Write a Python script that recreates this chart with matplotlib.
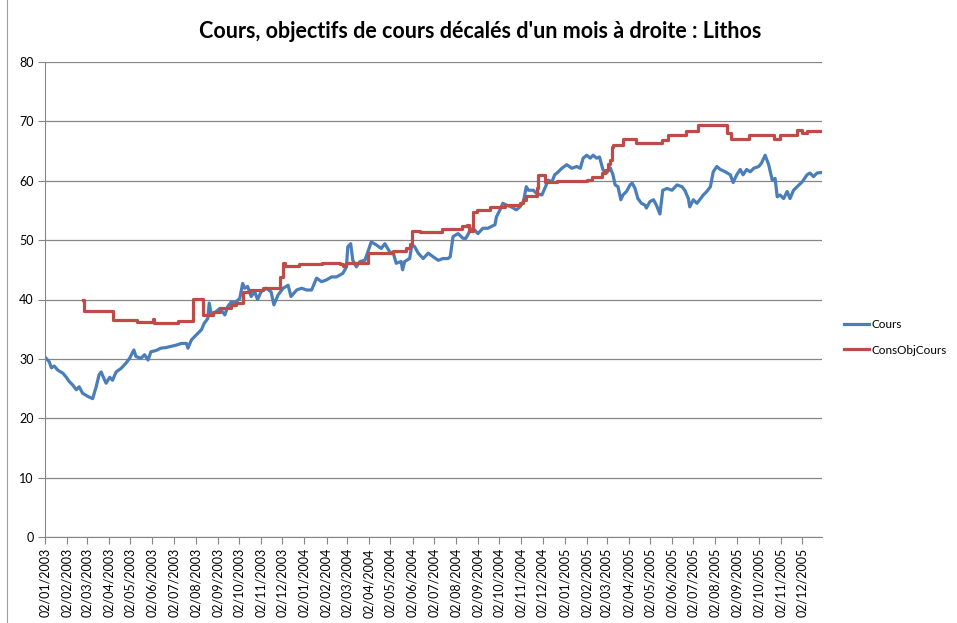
import numpy as np
import pandas as pd
import matplotlib
matplotlib.use('Agg')
import matplotlib.pyplot as plt
import matplotlib.dates as mdates
from matplotlib.lines import Line2D

plt.rcParams['font.family'] = ['Lato', 'DejaVu Sans']

start = pd.Timestamp('2003-01-02')
end_day = 1093  # last day shown (30/12/2005)

# Cours : day offset from 02/01/2003, price
cours_days = [0, 6, 9, 13, 18, 25, 30, 34, 39, 44, 48, 53, 60, 67, 72, 76, 79, 84, 86, 91,
              95, 100, 107, 114, 119, 125, 128, 135, 140, 145, 149, 156, 163, 170, 177, 184,
              192, 199, 201, 206, 210, 215, 220, 224, 229, 231, 234, 238, 246, 253, 257, 262,
              267, 274, 278, 281, 285, 290, 295, 299, 304, 311, 318, 322, 328, 335, 342, 346,
              354, 361, 368, 375, 382, 389, 396, 403, 410, 419, 424, 426, 430, 433, 438, 443,
              450, 454, 459, 466, 473, 478, 485, 490, 494, 501, 503, 506, 513, 516, 520, 525,
              532, 539, 546, 553, 560, 567, 570, 574, 581, 588, 592, 597, 602, 609, 616, 623,
              628, 633, 635, 640, 644, 649, 656, 663, 668, 673, 677, 680, 687, 691, 699, 703,
              708, 713, 717, 722, 727, 734, 741, 748, 753, 757, 762, 767, 771, 776, 780, 785,
              790, 795, 799, 802, 806, 810, 813, 818, 823, 826, 830, 834, 839, 844, 846, 851,
              856, 860, 865, 869, 875, 882, 889, 896, 900, 905, 907, 912, 917, 921, 926, 931,
              936, 940, 945, 950, 957, 964, 968, 973, 978, 982, 987, 992, 997, 1004, 1008,
              1013, 1018, 1023, 1027, 1030, 1034, 1039, 1044, 1048, 1053, 1058, 1065, 1072,
              1076, 1081, 1086, 1093]
cours_vals = [30.3, 29.5, 28.5, 28.8, 28.1, 27.6, 26.9, 26.2, 25.6, 24.8, 25.3, 24.2, 23.7,
              23.3, 25.3, 27.3, 27.8, 26.4, 25.9, 26.9, 26.4, 27.8, 28.4, 29.3, 30.1, 31.5,
              30.4, 30.1, 30.7, 29.8, 31.2, 31.4, 31.8, 31.9, 32.1, 32.3, 32.6, 32.6, 31.8,
              33.2, 33.7, 34.3, 34.9, 36.0, 36.8, 39.4, 37.4, 37.7, 38.5, 37.4, 38.8, 39.6,
              39.4, 40.2, 42.7, 41.9, 42.2, 40.5, 41.3, 40.0, 41.3, 41.9, 41.3, 39.1, 40.8,
              41.9, 42.4, 40.5, 41.6, 41.9, 41.6, 41.6, 43.6, 43.0, 43.3, 43.8, 43.8, 44.4,
              45.5, 48.9, 49.4, 46.6, 45.5, 46.4, 46.6, 48.0, 49.7, 49.2, 48.6, 49.4, 48.0,
              47.8, 46.1, 46.4, 45.0, 46.4, 46.9, 49.2, 48.9, 47.8, 46.9, 47.8, 47.2, 46.6,
              46.9, 46.9, 47.2, 50.6, 51.1, 50.3, 50.3, 51.4, 52.0, 51.1, 52.0, 52.0, 52.3,
              52.6, 53.9, 55.1, 56.2, 55.9, 55.6, 55.1, 55.6, 56.5, 59.0, 58.4, 58.4, 57.9,
              57.6, 58.7, 60.1, 59.8, 61.0, 61.5, 62.1, 62.7, 62.1, 62.4, 62.1, 63.8, 64.3,
              63.8, 64.3, 63.8, 64.0, 61.8, 61.3, 62.2, 61.0, 59.3, 59.0, 56.8, 57.6, 58.2,
              59.3, 59.6, 58.7, 57.0, 56.2, 55.9, 55.4, 56.5, 56.8, 55.9, 54.4, 58.4, 58.7,
              58.4, 59.3, 59.0, 58.4, 57.0, 55.6, 56.8, 56.2, 56.8, 57.6, 58.2, 59.0, 61.5,
              62.4, 61.9, 61.5, 61.0, 59.7, 61.0, 61.9, 61.0, 61.9, 61.5, 62.1, 62.4, 63.0,
              64.3, 62.7, 60.1, 60.4, 57.3, 57.6, 57.0, 58.2, 57.0, 58.4, 59.0, 59.8, 61.0,
              61.3, 60.7, 61.3, 61.4]

# ConsObjCours : day where the target changes, new value
obj_days = [54, 55, 96, 130, 152, 154, 187, 208, 222, 236, 246, 261, 269, 278, 288, 306, 330,
            335, 337, 358, 389, 415, 419, 424, 454, 490, 508, 513, 516, 527, 541, 558, 586,
            593, 597, 602, 607, 626, 647, 668, 673, 677, 692, 694, 703, 720, 762, 769, 783,
            788, 792, 795, 797, 799, 813, 832, 868, 876, 902, 918, 960, 965, 990, 1025, 1034,
            1058, 1065, 1072, 1093]
obj_vals = [40.0, 38.1, 36.5, 36.2, 36.7, 36.0, 36.3, 40.1, 37.4, 37.9, 38.5, 39.0, 39.4,
            41.3, 41.6, 42.0, 43.8, 46.1, 45.7, 45.9, 46.2, 46.0, 45.6, 46.1, 47.9, 48.2,
            48.6, 49.4, 51.6, 51.4, 51.3, 51.8, 52.3, 52.6, 51.6, 54.8, 55.1, 55.6, 55.9,
            56.2, 56.8, 57.4, 58.7, 61.0, 59.8, 60.0, 60.2, 60.7, 61.3, 61.8, 62.9, 63.5,
            65.7, 66.0, 67.0, 66.3, 66.9, 67.7, 68.4, 69.4, 68.0, 67.0, 67.7, 67.0, 67.7,
            68.5, 68.1, 68.3, 68.3]

cours_dates = start + pd.to_timedelta(cours_days, unit='D')
obj_dates = start + pd.to_timedelta(obj_days, unit='D')

fig = plt.figure(figsize=(9.57, 6.23), dpi=100)
ax = fig.add_axes([45/957, 86/623, 777/957, 475/623])

grey = '#868686'
l1, = ax.plot(cours_dates, cours_vals, color='#4A7EBB', lw=2.3, solid_joinstyle='round')
l2, = ax.plot(obj_dates, obj_vals, color='#BE4B48', lw=2.3, drawstyle='steps-post')

ax.set_xlim(start, start + pd.Timedelta(days=end_day))
ax.set_ylim(0, 80)
ax.set_yticks(range(0, 81, 10))
ax.yaxis.grid(True, color=grey, lw=0.9)
ax.set_axisbelow(True)

ax.xaxis.set_major_locator(mdates.MonthLocator(bymonthday=2))
ax.xaxis.set_major_formatter(mdates.DateFormatter('%d/%m/%Y'))
plt.setp(ax.get_xticklabels(), rotation=90, ha='center')
ax.tick_params(axis='x', length=5, color=grey, labelsize=9, pad=3)
ax.tick_params(axis='y', length=5, color=grey, labelsize=9, pad=3)

for s in ['top', 'right']:
    ax.spines[s].set_visible(False)
for s in ['left', 'bottom']:
    ax.spines[s].set_color(grey)

fig.text(0.502, 0.949, "Cours, objectifs de cours décalés d'un mois à droite : Lithos",
         ha='center', va='center', fontsize=15.5, fontweight='bold')

ax.legend([l1, l2], ['Cours', 'ConsObjCours'], loc='center left',
          bbox_to_anchor=(1.015, 0.42), frameon=False, fontsize=8.5,
          handlelength=2.1, handletextpad=0.2, labelspacing=1.2)

# left border of the chart area
fig.add_artist(Line2D([7.5/957, 7.5/957], [0, 1], color='#a0a0a0', lw=0.8))

fig.savefig('out.png', dpi=100)
